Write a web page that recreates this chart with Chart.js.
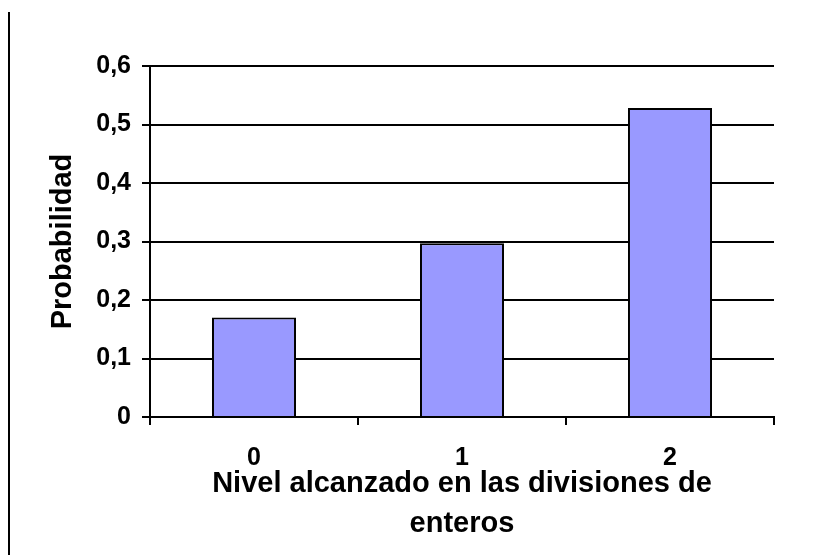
<!DOCTYPE html>
<html>
<head>
<meta charset="utf-8">
<script src="https://cdn.jsdelivr.net/npm/chart.js@4/dist/chart.umd.min.js"></script>
<style>
  html, body { margin: 0; padding: 0; background: #fff; }
  #wrap { width: 817px; height: 555px; position: relative; }
</style>
</head>
<body>
<div id="wrap"><canvas id="chart"></canvas></div>
<script>
// Chart data
const categories = ['0', '1', '2'];
const probabilities = [0.17, 0.297, 0.528];
const yTickLabels = ['0', '0,1', '0,2', '0,3', '0,4', '0,5', '0,6'];
const xTitle = ['Nivel alcanzado en las divisiones de', 'enteros'];
const yTitle = 'Probabilidad';

const fontFamily = '"Liberation Sans", Arial, sans-serif';

// thin frame line on the left edge of the picture
const leftFrame = {
    id: 'leftFrame',
    afterDraw(chart) {
        const c = chart.ctx;
        c.save();
        c.strokeStyle = '#000';
        c.lineWidth = 2;
        c.beginPath();
        c.moveTo(9, 12);
        c.lineTo(9, 555);
        c.stroke();
        c.restore();
    }
};

const ctx = document.getElementById('chart').getContext('2d');
const chart = new Chart(ctx, {
    type: 'bar',
    data: {
        labels: categories,
        datasets: [{
            data: probabilities,
            backgroundColor: '#9999FF',
            borderColor: '#000000',
            borderWidth: 2,
            barPercentage: 0.404,
            categoryPercentage: 1.0
        }]
    },
    options: {
        responsive: true,
        maintainAspectRatio: false,
        animation: false,
        layout: {
            padding: { left: 0, top: 66, right: 43, bottom: 0 }
        },
        plugins: {
            legend: { display: false },
            tooltip: { enabled: false }
        },
        scales: {
            x: {
                grid: {
                    display: true,
                    drawOnChartArea: false,
                    drawTicks: true,
                    tickLength: 8,
                    color: '#000',
                    lineWidth: 2
                },
                border: { display: true, color: '#000', width: 2 },
                ticks: {
                    color: '#000',
                    padding: 18,
                    font: { family: fontFamily, size: 25, weight: 'bold' }
                },
                title: {
                    display: true,
                    text: xTitle,
                    color: '#000',
                    padding: { top: 0, bottom: 11 },
                    font: { family: fontFamily, size: 29, weight: 'bold', lineHeight: 1.38 }
                },
                afterFit(scale) { scale.height = 138; }
            },
            y: {
                min: 0,
                max: 0.6,
                grid: {
                    color: '#000',
                    lineWidth: 2,
                    drawTicks: true,
                    tickLength: 8
                },
                border: { display: true, color: '#000', width: 2 },
                ticks: {
                    stepSize: 0.1,
                    color: '#000',
                    padding: 11,
                    font: { family: fontFamily, size: 25, weight: 'bold' },
                    callback: (value, index) => yTickLabels[index]
                },
                title: {
                    display: true,
                    text: yTitle,
                    color: '#000',
                    padding: { top: 46, bottom: 0 },
                    font: { family: fontFamily, size: 29, weight: 'bold', lineHeight: 1.2 }
                },
                afterFit(scale) { scale.width = 150; }
            }
        }
    },
    plugins: [leftFrame]
});
</script>
</body>
</html>
